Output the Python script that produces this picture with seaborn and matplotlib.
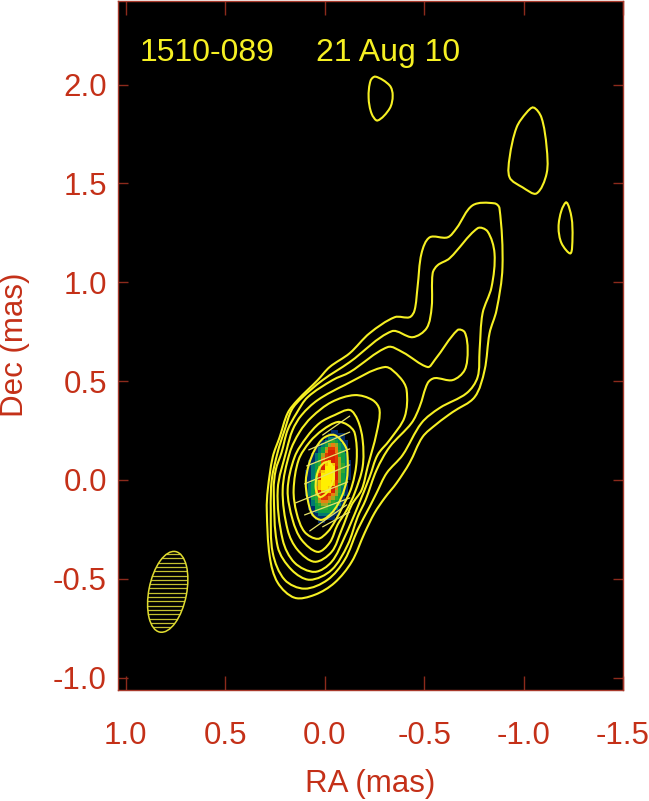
import matplotlib
matplotlib.use("Agg")
import matplotlib.pyplot as plt
import numpy as np
import pandas as pd
import seaborn as sns
from matplotlib.colors import LinearSegmentedColormap
from matplotlib.patches import Ellipse, PathPatch
from matplotlib.path import Path

# ------------------------------------------------
# Contour levels, outermost first (RA, Dec in mas)
# ------------------------------------------------
c1_ra = [.151, .236, .276, .291, .286, .261, .226, .186, .136, .035, -.025, -.126, -.226, -.352, -.427, -.452, -.467,
         -.487, -.528, -.618, -.663, -.744, -.854, -.879, -.894, -.864, -.829, -.804, -.754, -.643, -.563, -.492,
         -.427, -.362, -.302, -.251, -.201, -.136, -.050, .050]
c1_dec = [-.596, -.520, -.389, -.152, -.050, .116, .217, .338, .404, .505, .571, .641, .742, .823, .823, .858, .975,
          1.146, 1.227, 1.227, 1.273, 1.389, 1.399, 1.374, 1.076, .858, .742, .555, .419, .343, .283, .217,
          .086, -.015, -.091, -.167, -.268, -.414, -.520, -.581]

c2_ra = [.101, .201, .261, .271, .266, .236, .201, .166, .116, .010, -.126, -.337, -.442, -.513, -.538, -.543, -.568,
         -.628, -.769, -.819, -.854, -.839, -.794, -.779, -.769, -.714, -.578, -.487, -.392, -.312, -.261, -.226,
         -.166, -.101, -.015]
c2_dec = [-.550, -.505, -.369, -.152, 0, .141, .253, .354, .414, .505, .596, .752, .722, .768, .874, 1.045, 1.086,
          1.121, 1.273, 1.257, 1.146, .975, .843, .657, .520, .439, .364, .288, .126, .035, -.066, -.136,
          -.252, -.404, -.505]

c3_ra = [.075, .166, .236, .256, .246, .216, .186, .141, .085, -.040, -.126, -.317, -.392, -.518, -.553, -.668, -.704,
         -.719, -.704, -.643, -.553, -.518, -.477, -.437, -.327, -.261, -.206, -.166, -.116, -.035]
c3_dec = [-.505, -.455, -.338, -.050, .050, .141, .253, .338, .419, .505, .545, .672, .646, .571, .606, .758, .747,
          .657, .556, .505, .515, .490, .369, .288, .167, .050, -.101, -.187, -.328, -.455]

c4_ra = [.050, .151, .211, .236, .191, .161, .116, .035, -.101, -.302, -.377, -.412, -.402, -.327, -.266, -.226,
         -.166, -.101, -.035]
c4_dec = [-.465, -.419, -.303, -.050, .152, .253, .328, .404, .480, .571, .520, .455, .318, .202, .126, .015,
          -.136, -.288, -.414]

c5_ra = [.050, .136, .186, .211, .176, .126, .065, -.035, -.151, -.241, -.276, -.261, -.216, -.186, -.136, -.085, -.035]
c5_dec = [-.414, -.354, -.253, -.050, .136, .242, .318, .394, .429, .404, .354, .237, .066, -.050, -.126, -.253, -.364]

c6_ra = [.035, .116, .161, .186, .151, .090, .025, -.050, -.126, -.166, -.191, -.191, -.151, -.111, -.065, -.025]
c6_dec = [-.364, -.303, -.202, -.050, .116, .217, .288, .328, .354, .303, .202, .066, -.066, -.152, -.227, -.318]

c7_ra = [.035, .101, .141, .156, .131, .075, .010, -.065, -.116, -.151, -.161, -.136, -.090, -.050, -.015]
c7_dec = [-.298, -.263, -.167, -.050, .101, .192, .253, .293, .278, .237, .101, -.035, -.136, -.212, -.263]

c8_ra = [-.050, -.106, -.116, -.111, -.085, -.040, .015, .060, .085, .095, .080, .050, .005]
c8_dec = [.227, .167, .091, 0, -.086, -.162, -.202, -.177, -.101, -.010, .076, .152, .212]

c9_ra = [-.020, -.045, -.040, -.010, .025, .045, .035, .010]
c9_dec = [.091, .050, -.010, -.066, -.086, -.040, .040, .081]

# Isolated islands of emission
blob_a_ra = [-.256, -.327, -.342, -.327, -.266, -.236, -.221, -.231]
blob_a_dec = [2.040, 1.995, 1.944, 1.879, 1.818, 1.853, 1.934, 2.020]

blob_b_ra = [-1.050, -1.090, -1.116, -1.116, -1.065, -.995, -.930, -.930, -.965, -1.015]
blob_b_dec = [1.884, 1.833, 1.682, 1.550, 1.449, 1.480, 1.530, 1.631, 1.783, 1.858]

blob_c_ra = [-1.216, -1.241, -1.246, -1.236, -1.191, -1.176, -1.191]
blob_c_dec = [1.404, 1.328, 1.227, 1.146, 1.197, 1.278, 1.364]

contours = [
    (c1_ra, c1_dec), (c2_ra, c2_dec), (c3_ra, c3_dec), (c4_ra, c4_dec), (c5_ra, c5_dec),
    (c6_ra, c6_dec), (c7_ra, c7_dec), (c8_ra, c8_dec), (c9_ra, c9_dec),
    (blob_a_ra, blob_a_dec), (blob_b_ra, blob_b_dec), (blob_c_ra, blob_c_dec),
]

# Polarization sticks over the core
stick_ra_start = [.010, .080, .090, .101, .146, .101, .075, .010]
stick_dec_start = [.227, .152, .071, -.020, -.116, -.177, -.258, -.237]
stick_ra_end = [-.126, -.126, -.126, -.126, -.116, -.126, -.111, -.126]
stick_dec_end = [.323, .242, .157, .076, -.010, -.091, -.126, -.162]

# Core brightness, 0 (black) to 10 (yellow peak), top row first
core_ra_edges = np.linspace(.100, -.134, 15)
core_dec_edges = np.linspace(.2525, -.217, 29)
core_levels = [
    [0, 0, 0, 0, 0, 0, 0, 0, 1, 1, 0, 0, 0, 0],
    [0, 0, 0, 0, 0, 0, 0, 1, 1, 1, 1, 1, 0, 0],
    [0, 0, 0, 0, 0, 0, 1, 2, 2, 2, 2, 1, 0, 0],
    [0, 0, 0, 0, 0, 1, 2, 3, 4, 3, 2, 1, 1, 0],
    [0, 0, 0, 0, 1, 2, 3, 5, 6, 5, 3, 2, 1, 0],
    [0, 0, 0, 1, 2, 3, 5, 7, 7, 6, 3, 2, 1, 0],
    [0, 0, 0, 1, 2, 3, 6, 8, 8, 6, 4, 3, 1, 0],
    [0, 0, 1, 2, 3, 5, 7, 8, 8, 7, 4, 3, 2, 0],
    [0, 0, 1, 2, 3, 6, 8, 8, 8, 7, 5, 3, 2, 0],
    [0, 1, 1, 2, 4, 7, 8, 9, 8, 7, 5, 3, 2, 1],
    [0, 1, 2, 3, 4, 7, 9, 10, 9, 7, 5, 4, 2, 1],
    [0, 1, 2, 3, 5, 8, 10, 10, 10, 8, 5, 4, 2, 1],
    [1, 1, 2, 3, 6, 9, 10, 10, 10, 8, 5, 4, 2, 1],
    [1, 1, 2, 4, 7, 10, 10, 10, 10, 8, 5, 3, 2, 1],
    [1, 1, 2, 4, 8, 10, 10, 10, 10, 8, 5, 3, 2, 1],
    [1, 1, 3, 5, 9, 10, 10, 10, 9, 7, 5, 3, 2, 0],
    [1, 2, 3, 5, 9, 10, 10, 10, 9, 7, 4, 3, 1, 0],
    [1, 2, 3, 6, 9, 10, 10, 9, 8, 6, 4, 2, 1, 0],
    [1, 2, 3, 6, 8, 9, 9, 9, 8, 5, 4, 2, 1, 0],
    [1, 2, 3, 5, 7, 8, 8, 7, 6, 5, 3, 2, 1, 0],
    [0, 1, 3, 4, 6, 7, 7, 6, 5, 4, 3, 1, 0, 0],
    [0, 1, 2, 4, 5, 6, 6, 5, 4, 3, 2, 1, 0, 0],
    [0, 1, 2, 3, 4, 5, 5, 4, 3, 3, 2, 1, 0, 0],
    [0, 1, 1, 3, 3, 4, 4, 3, 3, 2, 1, 0, 0, 0],
    [0, 0, 1, 2, 3, 3, 3, 3, 2, 1, 1, 0, 0, 0],
    [0, 0, 1, 1, 2, 2, 2, 2, 1, 1, 0, 0, 0, 0],
    [0, 0, 0, 1, 1, 1, 1, 1, 1, 0, 0, 0, 0, 0],
    [0, 0, 0, 0, 1, 1, 0, 0, 0, 0, 0, 0, 0, 0],
]

# Beam: centre, minor and major axis (mas), tilt (deg)
beam_center = (.789, -.566)
beam_minor = .19
beam_major = .415
beam_tilt = 11

x_ticks = [1.0, 0.5, 0.0, -0.5, -1.0, -1.5]
y_ticks = [-1.0, -0.5, 0.0, 0.5, 1.0, 1.5, 2.0]

RED = "#c43018"
EDGE = "#8c2a1c"
YELLOW = "#f6f023"


def smooth_closed_path(xs, ys):
    """Closed Bezier path through the read vertices, tangents weighted by segment length."""
    pts = np.column_stack([xs, ys])
    n = len(pts)
    seg = np.linalg.norm(np.roll(pts, -1, axis=0) - pts, axis=1)
    tangents = []
    for i in range(n):
        tangents.append((pts[(i + 1) % n] - pts[i - 1]) / (seg[i - 1] + seg[i]))
    verts = [pts[0]]
    codes = [Path.MOVETO]
    for i in range(n):
        j = (i + 1) % n
        verts += [pts[i] + tangents[i] * seg[i] / 3, pts[j] - tangents[j] * seg[i] / 3, pts[j]]
        codes += [Path.CURVE4] * 3
    return Path(verts, codes)


sns.set_style("ticks")
plt.rcParams["font.family"] = ["Liberation Sans", "DejaVu Sans"]

fig = plt.figure(figsize=(6.49, 8.01), dpi=100)
ax = fig.add_axes([118 / 649, 1 - 689.5 / 801, 505 / 649, 689 / 801])
ax.set_facecolor("black")

# ------------------------------------------------
# Core image
# ------------------------------------------------
core_cmap = LinearSegmentedColormap.from_list(
    "core",
    ["#000000", "#002a6a", "#007a70", "#10a040", "#30a830", "#a0a820",
     "#e88010", "#e03800", "#d82000", "#f8c800", "#fff000"],
)
ax.pcolormesh(core_ra_edges, core_dec_edges, np.array(core_levels), cmap=core_cmap, vmin=0, vmax=10, zorder=1)

# ------------------------------------------------
# Contours and sticks
# ------------------------------------------------
for ra, dec in contours:
    ax.add_patch(PathPatch(smooth_closed_path(ra, dec), fill=False, edgecolor=YELLOW, lw=1.5, zorder=3))

sticks = pd.DataFrame({
    "stick": list(range(len(stick_ra_start))) * 2,
    "ra": stick_ra_start + stick_ra_end,
    "dec": stick_dec_start + stick_dec_end,
})
sns.lineplot(data=sticks, x="ra", y="dec", units="stick", estimator=None, sort=False,
             color="#e8e468", lw=0.9, legend=False, ax=ax, zorder=4)

# ------------------------------------------------
# Beam
# ------------------------------------------------
beam = Ellipse(beam_center, beam_minor, beam_major, angle=beam_tilt, fill=False, edgecolor="#e0dc30", lw=1.1, zorder=3)
ax.add_patch(beam)
hatch = ax.hlines(np.arange(-.79, -.34, .0219), .55, 1.03, color="#c4c030", lw=0.9, zorder=2)
hatch.set_clip_path(beam)

# ------------------------------------------------
# Axes
# ------------------------------------------------
ax.set_xlim(1.039, -1.5)
ax.set_ylim(-1.06, 2.425)
ax.set_xticks(x_ticks)
ax.set_xticklabels([f"{v:.1f}" for v in x_ticks])
ax.set_yticks(y_ticks)
ax.set_yticklabels([f"{v:.1f}" for v in y_ticks])
ax.tick_params(axis="x", direction="in", length=10, width=1, color=EDGE, top=True, bottom=True,
               labelcolor=RED, labelsize=22.5, pad=23)
ax.tick_params(axis="y", direction="in", length=7, width=1, color=EDGE, left=True, right=True,
               labelcolor=RED, labelsize=22.5, pad=8)
for spine in ax.spines.values():
    spine.set_color("#a83a2c")
    spine.set_linewidth(1)

ax.set_xlabel("RA (mas)", color=RED, fontsize=22.5)
ax.set_ylabel("Dec (mas)", color=RED, fontsize=22.5)
ax.xaxis.set_label_coords(0.5, -0.115)
ax.yaxis.set_label_coords(-0.174, 0.5)

ax.text(.93, 2.12, "1510-089", color=YELLOW, fontsize=23, va="baseline", ha="left")
ax.text(.045, 2.12, "21 Aug 10", color=YELLOW, fontsize=23, va="baseline", ha="left")

fig.savefig("out.png", dpi=100)
